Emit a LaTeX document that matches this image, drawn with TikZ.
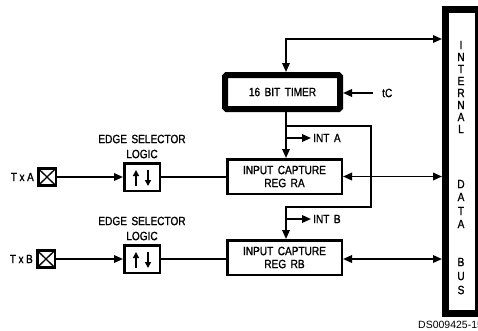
\documentclass[tikz,border=0pt]{standalone}
\usepackage{fontspec}
\setmainfont{Liberation Sans}
\newfontfamily\condf{Liberation Sans}[FakeStretch=0.84,WordSpace=1.6,FakeBold=1.2]
\usetikzlibrary{arrows.meta}
\begin{document}
\begin{tikzpicture}[x=1bp,y=-1bp,
  lbl/.style={font=\condf\fontsize{12bp}{13bp}\selectfont, inner sep=0pt},
  buslbl/.style={font=\condf\fontsize{12bp}{12bp}\selectfont, inner sep=0pt},
  tipa/.tip={Triangle[length=9bp,width=7.5bp]},
  line/.style={line width=1.8bp},
  conn/.style={line, -tipa},
  bidir/.style={line, tipa-tipa},
  glyph/.style={line width=1.8bp, -{Triangle[length=6bp,width=6bp]}},
  box/.style={draw, line width=2.5bp, inner sep=0pt},
  reg/.style={box, lbl, align=center, minimum width=114.5bp, minimum height=34.5bp},
  timerbox/.style={draw, lbl, line width=6bp, rounded corners=1.5bp, minimum width=115bp, minimum height=34bp},
  edgebox/.style={box, minimum width=35.5bp, minimum height=27.5bp},
  txbox/.style={box, minimum width=17.5bp, minimum height=17bp,
    path picture={\draw[line width=1.3bp] (path picture bounding box.north west) -- (path picture bounding box.south east)
      (path picture bounding box.south west) -- (path picture bounding box.north east);}}
]
\useasboundingbox (0,0) rectangle (478,330);

% bus
\node[box, line width=7bp, minimum width=33bp, minimum height=304bp] (bus) at (462,161.5) {};
\foreach \l/\yy in {I/45,N/57,T/69,E/81,R/93,N/105,A/117,L/129,D/184,A/197,T/211,A/224,B/262,U/276,S/290}
  \node[buslbl] (b\yy) at (461,\yy) {\l};

% blocks
\node[timerbox] (timer) at (282.5,92) {16 BIT TIMER};
\node[reg] (ra) at (284.5,176.5) {INPUT CAPTURE\\REG RA};
\node[reg] (rb) at (284.5,257.5) {INPUT CAPTURE\\REG RB};

\node[edgebox] (ea) at (142,177) {};
\node[edgebox] (eb) at (142,259) {};
\node[lbl, align=center] (la) at (142,146.5) {EDGE SELECTOR\\[2bp]LOGIC};
\node[lbl, align=center] (lb) at (142,228.5) {EDGE SELECTOR\\[2bp]LOGIC};

\node[txbox] (ta) at (47,177) {};
\node[txbox] (tb) at (46,259) {};
\node[lbl, anchor=east] (tal) at (34,177) {T\hspace{2.5bp}x\hspace{2.5bp}A};
\node[lbl, anchor=east] (tbl) at (33,259) {T\hspace{2.5bp}x\hspace{2.5bp}B};

% edge glyphs
\foreach \n in {ea,eb}{
  \draw[glyph] ([xshift=-6bp,yshift=-9bp]\n.center) -- ([xshift=-6bp,yshift=7bp]\n.center);
  \draw[glyph] ([xshift=6bp,yshift=7bp]\n.center) -- ([xshift=6bp,yshift=-9bp]\n.center);
}

% labels
\node[lbl, anchor=west] (tc) at (382,93) {tC};
\node[lbl, anchor=west] (inta) at (313,138) {INT A};
\node[lbl, anchor=west] (intb) at (313,219) {INT B};
\node[anchor=west, inner sep=0pt, font=\fontsize{10.5bp}{11bp}\selectfont] (ds) at (418,325) {DS009425-15};

% coordinates
\coordinate (top) at (286,39);
\coordinate (br) at (286,126);
\coordinate (lr1) at (371,126);
\coordinate (lr2) at (371,207);
\coordinate (lb2) at (286,207);
\coordinate (ia) at (286,138);
\coordinate (ib) at (286,219);

% connectors
\draw[bidir] (top -| bus.west) -- (top) -- (top |- timer.north);
\draw[conn] ([xshift=-9bp]tc.west) -- (tc.west -| timer.east);
\draw[conn] (timer.south -| top) -- (ra.north -| top);
\draw[conn] (br) -- (lr1) -- (lr2) -- (lb2) -- (rb.north -| lb2);
\draw[conn] (ia) -- ([xshift=-2bp]inta.west |- ia);
\draw[conn] (ib) -- ([xshift=-2bp]intb.west |- ib);

\draw[bidir] (ra.east) -- (ra.east -| bus.west);
\draw[bidir] (eb.center -| rb.east) -- (eb.center -| bus.west);

\draw[conn] (ta.east) -- (ea.west);
\draw[line] (ea.east) -- (ea.east -| ra.west);
\draw[conn] (tb.east) -- (eb.west);
\draw[line] (eb.east) -- (eb.east -| rb.west);
\end{tikzpicture}
\end{document}
